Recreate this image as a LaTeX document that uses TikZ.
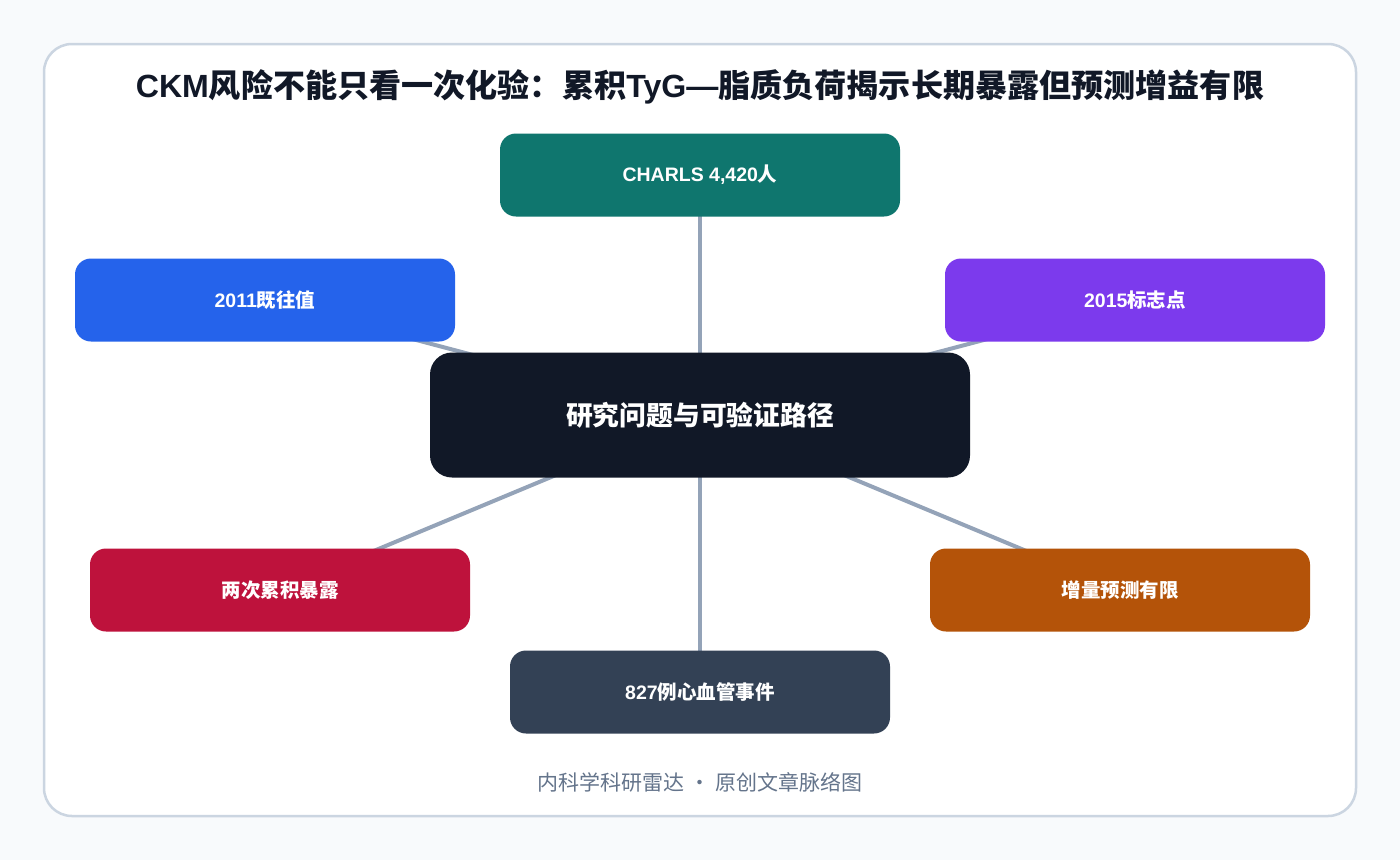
\documentclass[tikz,border=0pt]{standalone}
\usepackage{fontspec}
\setmainfont{Noto Sans CJK SC}
\newfontfamily\lat{Liberation Sans}
\begin{document}
\begin{tikzpicture}[x=1pt,y=-1pt,
  conn/.style={draw=linec,line width=4pt},
  box/.style={rounded corners=16pt,minimum width=380pt,minimum height=83pt,text=white,font=\fontsize{19.5}{23}\selectfont\bfseries,inner sep=0pt}]
\definecolor{pagebg}{HTML}{F8FAFC}
\definecolor{framec}{HTML}{CBD5E1}
\definecolor{titlec}{HTML}{111827}
\definecolor{linec}{HTML}{94A3B8}
\definecolor{tealc}{HTML}{0F766E}
\definecolor{bluec}{HTML}{2563EB}
\definecolor{purpc}{HTML}{7C3AED}
\definecolor{darkc}{HTML}{111827}
\definecolor{redc}{HTML}{BE123C}
\definecolor{orangec}{HTML}{B45309}
\definecolor{slatec}{HTML}{334155}
\definecolor{footc}{HTML}{64748B}
\fill[pagebg] (0,0) rectangle (1400,860);
\useasboundingbox (0,0) rectangle (1400,860);
\draw[framec,fill=white,line width=2.5pt,rounded corners=28pt] (44,44) rectangle (1356,816);
\node[text=titlec,font=\fontsize{32.1}{37}\selectfont\bfseries] (title) at (700,87) {{\lat CKM}风险不能只看一次化验：累积{\lat TyG—}脂质负荷揭示长期暴露但预测增益有限};
\coordinate (c) at (700,415);
\coordinate (pt) at (700,175);
\coordinate (pl) at (265,300);
\coordinate (pr) at (1135,300);
\coordinate (pll) at (280,590);
\coordinate (plr) at (1120,590);
\coordinate (pb) at (700,692);
\draw[conn] (c) -- (pt);
\draw[conn] (c) -- (pl);
\draw[conn] (c) -- (pr);
\draw[conn] (c) -- (pll);
\draw[conn] (c) -- (plr);
\draw[conn] (c) -- (pb);
\node[box,fill=tealc,minimum width=400pt] (top) at (pt) {{\lat CHARLS 4,420}人};
\node[box,fill=bluec] (left) at (pl) {{\lat 2011}既往值};
\node[box,fill=purpc] (right) at (pr) {{\lat 2015}标志点};
\node[box,fill=redc] (ll) at (pll) {两次累积暴露};
\node[box,fill=orangec] (lr) at (plr) {增量预测有限};
\node[box,fill=slatec] (bot) at (pb) {{\lat 827}例心血管事件};
\node[box,fill=darkc,minimum width=540pt,minimum height=125pt,rounded corners=22pt,font=\fontsize{26.8}{31}\selectfont\bfseries] (center) at (c) {研究问题与可验证路径};
\node[text=footc,font=\fontsize{21}{25}\selectfont] (foot) at (700,782) {内科学科研雷达 · 原创文章脉络图};
\end{tikzpicture}
\end{document}
